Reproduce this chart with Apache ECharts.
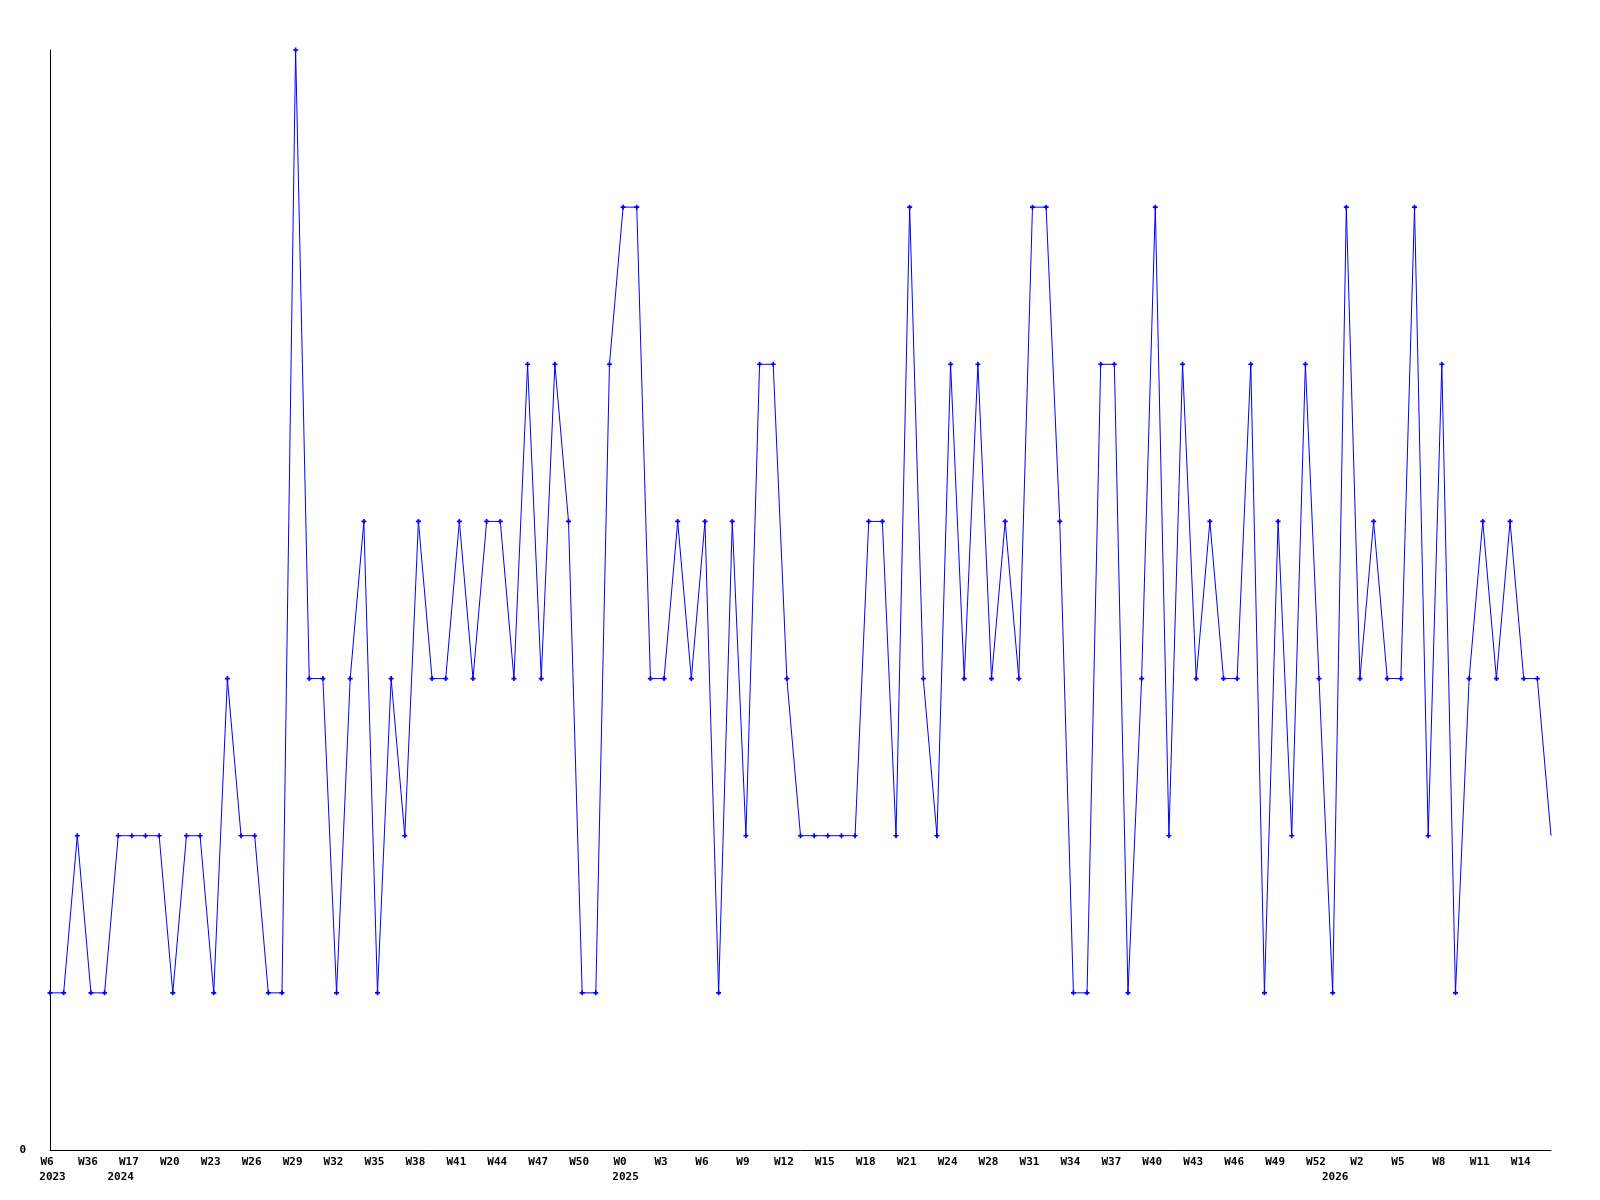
<!DOCTYPE html>
<html>
<head>
<meta charset="utf-8">
<script src="https://cdn.jsdelivr.net/npm/echarts@6/dist/echarts.min.js"></script>
<style>
html,body{margin:0;padding:0;background:#fff;}
#chart{width:1600px;height:1200px;}
</style>
</head>
<body>
<div id="chart"></div>
<script>
// Week categories (only every third one is labelled on the axis)
const weeks = [
  'W6','W14','W25','W36','W44','W16',
  'W17','W18','W19','W20','W21','W22','W23','W24','W25','W26','W27','W28',
  'W29','W30','W31','W32','W33','W34','W35','W36','W37','W38','W39','W40',
  'W41','W42','W43','W44','W45','W46','W47','W48','W49','W50','W51','W52',
  'W0','W1','W2','W3','W4','W5','W6','W7','W8','W9','W10','W11','W12',
  'W13','W14','W15','W16','W17','W18','W19','W20','W21','W22','W23','W24',
  'W25','W26',
  'W28','W29','W30','W31','W32','W33','W34','W35','W36','W37','W38','W39',
  'W40','W41','W42','W43','W44','W45','W46','W47','W48','W49','W50','W51','W52',
  'W0','W1','W2','W3','W4','W5','W6','W7','W8','W9','W10','W11','W12',
  'W13','W14','W15','W16'
];
// Year label shown under the first week of each year
const yearStartIndex = [0, 5, 42, 94];
const yearNames = ['2023', '2024', '2025', '2026'];
// Values
const values = [
  1,1,2,1,1,2,2,2,2,1,2,2,1,3,2,2,1,1,7,
  3,3,1,3,4,1,3,2,4,3,3,4,3,4,4,3,5,3,
  5,4,1,1,5,6,6,3,3,4,3,4,1,4,2,5,5,3,
  2,2,2,2,2,4,4,2,6,3,2,5,3,5,3,4,3,6,6,
  4,1,1,5,5,1,3,6,2,5,3,4,3,3,5,1,4,2,5,
  3,1,6,3,4,3,3,6,2,5,1,3,4,3,4,3,3,2
];

const labelFont = {
  fontFamily: 'DejaVu Sans Mono',
  fontWeight: 'bold',
  fontSize: 11,
  color: '#000'
};

const seriesData = values.map(function (v, i) {
  return i === values.length - 1 ? {value: v, symbol: 'none'} : v;
});

const chart = echarts.init(document.getElementById('chart'), null, {renderer: 'canvas'});
chart.setOption({
  animation: false,
  backgroundColor: '#ffffff',
  grid: {left: 50, right: 49, top: 50, bottom: 50, containLabel: false},
  xAxis: [
    {
      type: 'category',
      data: weeks,
      boundaryGap: false,
      axisLine: {show: true, lineStyle: {color: '#000', width: 1}},
      axisTick: {show: false},
      splitLine: {show: false},
      axisLabel: Object.assign({interval: 2, margin: 7, hideOverlap: false, padding: [0, 6, 0, 0]}, labelFont)
    },
    {
      type: 'category',
      data: weeks,
      boundaryGap: false,
      position: 'bottom',
      axisLine: {show: false},
      axisTick: {show: false},
      splitLine: {show: false},
      axisLabel: Object.assign({
        margin: 22,
        hideOverlap: false,
        padding: [0, 0, 0, 5],
        interval: function (i) { return yearStartIndex.indexOf(i) >= 0; },
        formatter: function (v, i) {
          const k = yearStartIndex.indexOf(i);
          return k >= 0 ? yearNames[k] : '';
        }
      }, labelFont)
    }
  ],
  yAxis: {
    type: 'value',
    min: 0,
    max: 7,
    interval: 7,
    axisLine: {show: true, lineStyle: {color: '#000', width: 1}},
    axisTick: {show: false},
    splitLine: {show: false},
    axisLabel: Object.assign({
      margin: 24,
      formatter: function (v) { return v === 0 ? '0' : ''; }
    }, labelFont)
  },
  series: [{
    type: 'line',
    xAxisIndex: 0,
    data: seriesData,
    symbol: 'path://M1,0H2V1H3V2H2V3H1V2H0V1H1Z',
    symbolSize: 5,
    showAllSymbol: true,
    clip: false,
    lineStyle: {color: '#0000ff', width: 1},
    itemStyle: {color: '#0000ff'}
  }]
});
</script>
</body>
</html>
